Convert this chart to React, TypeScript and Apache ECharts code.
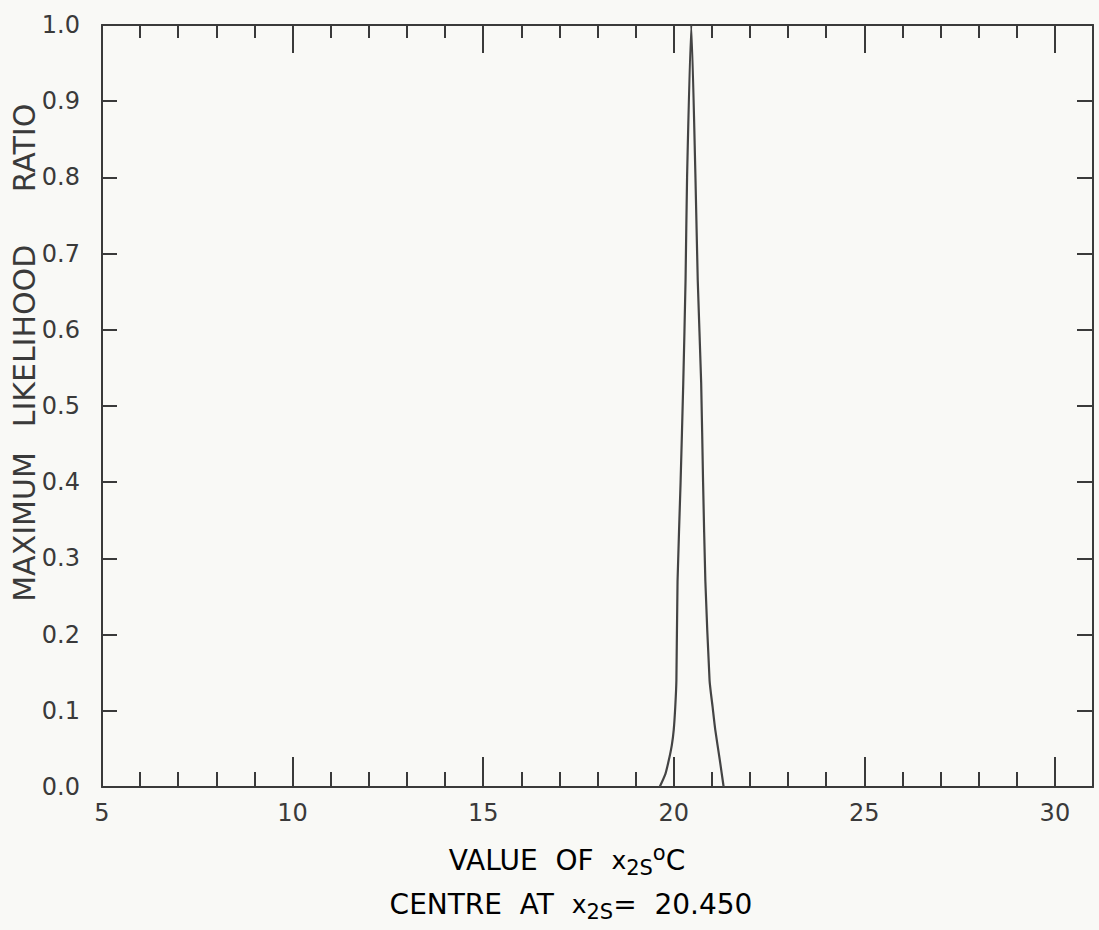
import React, { useEffect, useRef } from "react";
import * as echarts from "echarts";

// Curve: x (°C) and maximum likelihood ratio
const curveX = [19.63, 19.78, 19.87, 19.95, 20.0, 20.04, 20.07, 20.1, 20.18, 20.25, 20.31, 20.35, 20.46, 20.57, 20.63, 20.72, 20.77, 20.83, 20.94, 21.02, 21.09, 21.21, 21.31];
const curveY = [0.0, 0.017, 0.035, 0.055, 0.075, 0.105, 0.14, 0.27, 0.4, 0.53, 0.665, 0.8, 1.0, 0.8, 0.665, 0.53, 0.4, 0.27, 0.14, 0.105, 0.075, 0.035, 0.0];

const xMin = 5;
const xMax = 31;
const yMin = 0;
const yMax = 1;
const xMajor = 5;
const xMinor = 1;
const yStep = 0.1;

const yTitleWords = ["MAXIMUM", "LIKELIHOOD", "RATIO"];
const xTitle1 = ["VALUE  OF  ", "x", "2S", "o", "C"];
const xTitle2 = ["CENTRE  AT  ", "x", "2S", "=  20.450"];

const INK = "#3a3a3a";
const FONT = "DejaVu Sans";

export default function App() {
  const ref = useRef<HTMLDivElement>(null);
  useEffect(() => {
    if (!ref.current) return;
    const chart = echarts.init(ref.current, undefined, { renderer: "svg" });
    const gridPos = { left: 102, right: 6, top: 25, bottom: 143, containLabel: false };
    const lineStyle = { color: INK, width: 2 };
    const axisLineOn = { show: true, onZero: false, lineStyle };
    const axisLineOff = { show: false, onZero: false };
    const richBase = {
      t: { fontFamily: FONT, fontSize: 28, color: INK, verticalAlign: "middle", lineHeight: 36 },
      x: { fontFamily: FONT, fontSize: 25, color: INK, verticalAlign: "middle", lineHeight: 36 },
      sub: { fontFamily: FONT, fontSize: 21, color: INK, verticalAlign: "bottom", lineHeight: 36 },
      sup: { fontFamily: FONT, fontSize: 21, color: INK, verticalAlign: "top", lineHeight: 36 },
    };
    const yWordPos = [527, 336, 148];
    chart.setOption({
      animation: false,
      backgroundColor: "#f9f9f6",
      grid: [gridPos, gridPos],
      xAxis: [
        {
          gridIndex: 0, type: "value", position: "bottom", min: xMin, max: xMax, interval: xMinor,
          axisLine: axisLineOn,
          axisTick: { show: true, inside: true, length: 15, lineStyle },
          axisLabel: { show: false }, splitLine: { show: false },
        },
        {
          gridIndex: 0, type: "value", position: "top", min: xMin, max: xMax, interval: xMinor,
          axisLine: axisLineOn,
          axisTick: { show: true, inside: true, length: 13, lineStyle },
          axisLabel: { show: false }, splitLine: { show: false },
        },
        {
          gridIndex: 1, type: "value", position: "bottom", min: xMin, max: xMax, interval: xMajor,
          axisLine: axisLineOff,
          axisTick: { show: true, inside: true, length: 30, lineStyle },
          axisLabel: {
            show: true, margin: 14, fontFamily: FONT, fontSize: 24, color: INK, showMaxLabel: false,
            formatter: (v: number) => (v % xMajor === 0 ? String(v) : ""),
          },
          splitLine: { show: false },
        },
        {
          gridIndex: 1, type: "value", position: "top", min: xMin, max: xMax, interval: xMajor,
          axisLine: axisLineOff,
          axisTick: { show: true, inside: true, length: 28, lineStyle },
          axisLabel: { show: false }, splitLine: { show: false },
        },
      ],
      yAxis: [
        {
          gridIndex: 0, type: "value", position: "left", min: yMin, max: yMax, interval: yStep,
          axisLine: axisLineOn,
          axisTick: { show: true, inside: true, length: 15, lineStyle },
          axisLabel: {
            show: true, margin: 22, fontFamily: FONT, fontSize: 24, color: INK,
            formatter: (v: number) => v.toFixed(1),
          },
          splitLine: { show: false },
        },
        {
          gridIndex: 0, type: "value", position: "right", min: yMin, max: yMax, interval: yStep,
          axisLine: axisLineOn,
          axisTick: { show: true, inside: true, length: 16, lineStyle },
          axisLabel: { show: false }, splitLine: { show: false },
        },
        { gridIndex: 1, type: "value", min: yMin, max: yMax, show: false },
      ],
      series: [
        {
          type: "line",
          xAxisIndex: 0,
          yAxisIndex: 0,
          data: curveX.map((x, i) => [x, curveY[i]]),
          showSymbol: false,
          symbol: "none",
          smooth: 0.2,
          lineStyle: { color: "#444", width: 2.2 },
        },
      ],
      graphic: [
        ...yTitleWords.map((w, i) => ({
          type: "text",
          x: 24,
          y: yWordPos[i],
          rotation: Math.PI / 2,
          style: {
            text: w,
            fontFamily: FONT,
            fontSize: 30,
            fill: INK,
            align: "center",
            verticalAlign: "middle",
          },
        })),
        {
          type: "text",
          x: 567,
          y: 860,
          style: {
            text: `{t|${xTitle1[0]}}{x|${xTitle1[1]}}{sub|${xTitle1[2]}}{sup|${xTitle1[3]}}{t|${xTitle1[4]}}`,
            rich: richBase,
            align: "center",
            verticalAlign: "middle",
          },
        },
        {
          type: "text",
          x: 571,
          y: 904,
          style: {
            text: `{t|${xTitle2[0]}}{x|${xTitle2[1]}}{sub|${xTitle2[2]}}{t|${xTitle2[3]}}`,
            rich: richBase,
            align: "center",
            verticalAlign: "middle",
          },
        },
      ],
    });
    return () => chart.dispose();
  }, []);
  return (
    <div
      ref={ref}
      style={{ position: "fixed", left: 0, top: 0, width: 1099, height: 930 }}
    />
  );
}
